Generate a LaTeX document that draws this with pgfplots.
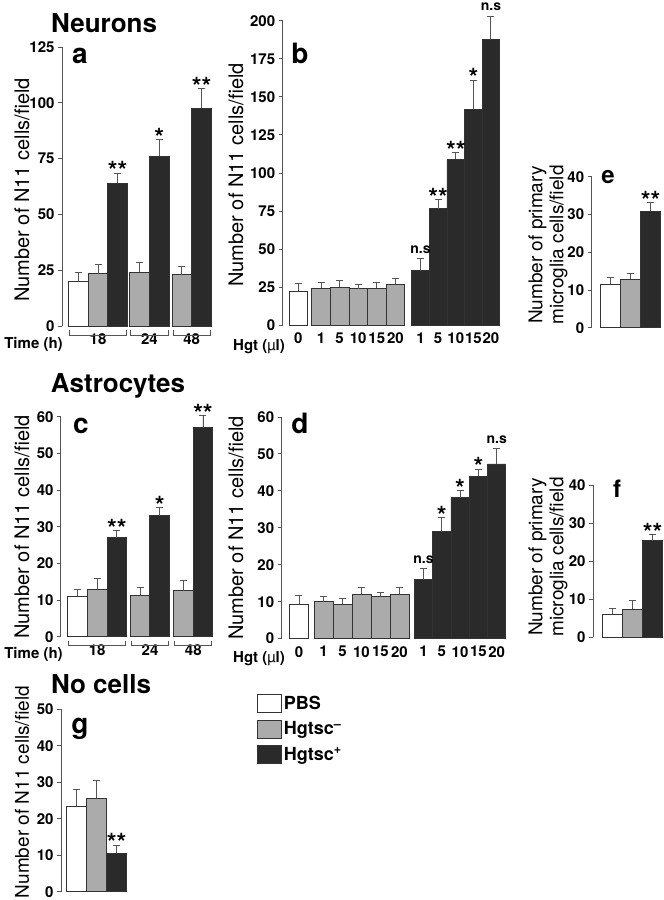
\documentclass[border=0pt]{standalone}
\usepackage{fontspec}
\setmainfont{TeX Gyre Heros}
\usepackage{pgfplots}
\pgfplotsset{compat=1.18}

\definecolor{barblack}{HTML}{2A2A2A}
\definecolor{bargrey}{HTML}{ABABAB}
\definecolor{edge}{HTML}{333333}
\definecolor{axisgrey}{HTML}{555555}

\pgfplotsset{
 panel/.style={
  scale only axis, clip=false,
  axis x line*=bottom, axis y line*=left,
  x axis line style={draw=none},
  y axis line style={-, draw=axisgrey, line width=1pt},
  xtick style={draw=none},
  ytick style={draw=axisgrey, line width=1pt},
  tick align=outside, major tick length=4pt,
  ymin=0,
  /pgf/number format/assume math mode=true,
  ticklabel style={font=\bfseries\fontsize{15}{15}\selectfont, text=black},
  ybar, bar shift=0pt, bar width=1,
  error bars/y dir=plus, error bars/y explicit,
  error bars/error bar style={draw=axisgrey, line width=0.9pt},
  error bars/error mark options={rotate=90, draw=axisgrey, line width=0.9pt, mark size=3.5pt},
 },
 pbs/.style={fill=white, draw=edge, line width=0.8pt, bar shift=0pt},
 hneg/.style={fill=bargrey, draw=edge, line width=0.8pt, bar shift=0pt},
 hpos/.style={fill=barblack, draw=edge, line width=0.8pt, bar shift=0pt},
 boxleg/.style={legend image code/.code={\draw[##1, line width=0.8pt] (0pt,-9pt) rectangle (24pt,9pt);}},
}
\tikzset{
 stars/.style={font=\bfseries\fontsize{25}{25}\selectfont, anchor=south, inner sep=0pt, yshift=-7pt},
 ns/.style={font=\bfseries\fontsize{14}{14}\selectfont, anchor=south, inner sep=0pt, yshift=5pt},
 ylab/.style={rotate=90, font=\fontsize{20}{20}\selectfont, align=center},
 plab/.style={font=\bfseries\fontsize{28}{28}\selectfont, anchor=base},
 ttl/.style={font=\bfseries\fontsize{26}{26}\selectfont, anchor=base},
 xlab/.style={font=\bfseries\fontsize{15}{15}\selectfont},
}
\newcommand\groupbracket[2]{\draw[axisgrey, line width=0.8pt] ([yshift=-4pt]axis cs:#1,0) -- ([yshift=-9pt]axis cs:#1,0) -- ([yshift=-9pt]axis cs:#2,0) -- ([yshift=-4pt]axis cs:#2,0);}

\begin{document}
\begin{tikzpicture}[x=1pt,y=1pt]
\useasboundingbox (0,0) rectangle (664,-900);

% ---------------- panel a
\begin{axis}[panel, at={(62pt,-326pt)}, anchor=south west, width=150pt, height=279pt,
  xmin=-0.83, xmax=6.79, ymax=125, ytick={0,25,...,125},
  xtick={1,3.61,5.76}, xticklabels={18,24,48}]
\addplot[pbs] coordinates {(0,20) +- (0,4)};
\addplot[hneg] coordinates {(1,23.5) +- (0,4) (3.11,24) +- (0,4.5) (5.26,23) +- (0,3.5)};
\addplot[hpos] coordinates {(2,64) +- (0,4.5) (4.11,76) +- (0,7.5) (6.26,97.5) +- (0,9)};
\node[stars] at (axis cs:2,68.5) {**};
\node[stars] at (axis cs:4.11,83.5) {*};
\node[stars] at (axis cs:6.26,106.5) {**};
\groupbracket{-0.45}{2.45}
\groupbracket{2.66}{4.56}
\groupbracket{4.81}{6.71}
\end{axis}

% ---------------- panel b
\begin{axis}[panel, at={(282.7pt,-325.4pt)}, anchor=south west, width=216.6pt, height=304.7pt,
  xmin=-0.857, xmax=11.04, ymax=200, ytick={0,25,...,200},
  xtick={0,1.25,2.27,3.29,4.31,5.33,6.71,7.68,8.65,9.62,10.58},
  xticklabels={0,1,5,10,15,20,1,5,10,15,20}]
\addplot[pbs] coordinates {(0,22.5) +- (0,5)};
\addplot[hneg, bar width=1.02] coordinates {(1.25,24.5) +- (0,4) (2.27,25) +- (0,4.5) (3.29,24) +- (0,3) (4.31,24.5) +- (0,4) (5.33,27) +- (0,3.5)};
\addplot[hpos, bar width=0.97] coordinates {(6.71,36) +- (0,8) (7.68,76.5) +- (0,6) (8.65,109) +- (0,4.5) (9.62,142) +- (0,19) (10.58,187.5) +- (0,15.5)};
\node[ns] at (axis cs:6.71,44) {n.s};
\node[stars] at (axis cs:7.68,82.5) {**};
\node[stars] at (axis cs:8.65,113.5) {**};
\node[stars] at (axis cs:9.62,161) {*};
\node[ns] at (axis cs:10.58,203) {n.s};
\end{axis}

% ---------------- panel e
\begin{axis}[panel, at={(591.7pt,-327.8pt)}, anchor=south west, width=70.3pt, height=151.1pt,
  xmin=-0.915, xmax=2.6, ymax=40, ytick={0,10,...,40}, xtick=\empty]
\addplot[pbs] coordinates {(0,11.5) +- (0,1.7)};
\addplot[hneg] coordinates {(1,12.8) +- (0,1.7)};
\addplot[hpos] coordinates {(2.03,30.8) +- (0,2.4)};
\node[stars] at (axis cs:2.03,33.2) {**};
\end{axis}

% ---------------- panel c
\begin{axis}[panel, at={(61pt,-636.7pt)}, anchor=south west, width=153pt, height=220pt,
  xmin=-0.84, xmax=6.93, ymax=60, ytick={0,10,...,60},
  xtick={1,3.68,5.88}, xticklabels={18,24,48}]
\addplot[pbs] coordinates {(0,11) +- (0,2)};
\addplot[hneg] coordinates {(1,13) +- (0,3) (3.19,11.3) +- (0,2) (5.39,12.5) +- (0,2.8)};
\addplot[hpos] coordinates {(2,27) +- (0,2) (4.17,33) +- (0,2.3) (6.37,57) +- (0,3.3)};
\node[stars] at (axis cs:2,29) {**};
\node[stars] at (axis cs:4.17,35.3) {*};
\node[stars] at (axis cs:6.37,60.3) {**};
\groupbracket{-0.45}{2.45}
\groupbracket{2.74}{4.62}
\groupbracket{4.94}{6.82}
\end{axis}

% ---------------- panel d
\begin{axis}[panel, at={(281.7pt,-638.6pt)}, anchor=south west, width=224.3pt, height=221.6pt,
  xmin=-0.93, xmax=11.13, ymax=60, ytick={0,10,...,60},
  xtick={0,1.32,2.34,3.36,4.38,5.40,6.69,7.68,8.66,9.65,10.63},
  xticklabels={0,1,5,10,15,20,1,5,10,15,20}]
\addplot[pbs] coordinates {(0,9.3) +- (0,2.3)};
\addplot[hneg, bar width=1.02] coordinates {(1.32,10) +- (0,1.3) (2.34,9.3) +- (0,1.5) (3.36,12) +- (0,1.8) (4.38,11.3) +- (0,1.1) (5.40,12) +- (0,1.8)};
\addplot[hpos, bar width=0.985] coordinates {(6.69,16) +- (0,3) (7.68,29) +- (0,3.8) (8.66,38.2) +- (0,1.9) (9.65,44) +- (0,1.9) (10.63,47.3) +- (0,4.1)};
\node[ns] at (axis cs:6.69,19) {n.s};
\node[stars] at (axis cs:7.68,32.8) {*};
\node[stars] at (axis cs:8.66,40.1) {*};
\node[stars] at (axis cs:9.65,45.9) {*};
\node[ns] at (axis cs:10.63,51.4) {n.s};
\end{axis}

% ---------------- panel f
\begin{axis}[panel, at={(593pt,-637.3pt)}, anchor=south west, width=71pt, height=152.3pt,
  xmin=-0.985, xmax=2.565, ymax=40, ytick={0,10,...,40}, xtick=\empty]
\addplot[pbs] coordinates {(0,6) +- (0,1.7)};
\addplot[hneg] coordinates {(1,7.4) +- (0,2.2)};
\addplot[hpos] coordinates {(2,25.4) +- (0,1.6)};
\node[stars] at (axis cs:2,27) {**};
\end{axis}

% ---------------- panel g
\begin{axis}[panel, at={(61pt,-891.7pt)}, anchor=south west, width=67pt, height=182.4pt,
  xmin=-0.785, xmax=2.565, ymax=50, ytick={0,10,...,50}, xtick=\empty,
  legend cell align=left,
  legend style={at={(axis description cs:2.925,1.084)}, anchor=north west, draw=none, fill=none,
    inner sep=0pt, row sep=6.5pt, font=\bfseries\fontsize{18}{18}\selectfont,
    /tikz/every even column/.append style={column sep=3pt}}]
\addplot[pbs, boxleg] coordinates {(0,23.5) +- (0,4.5)};
\addlegendentry{PBS}
\addplot[hneg, boxleg] coordinates {(1,25.7) +- (0,4.7)};
\addlegendentry{Hgtsc\textsuperscript{–}}
\addplot[hpos, boxleg] coordinates {(2,10.6) +- (0,2.2)};
\addlegendentry{Hgtsc\textsuperscript{+}}
\node[stars] at (axis cs:2,12.8) {**};
\end{axis}

% ---------------- texts
\node[ttl] at (104,-32) {Neurons};
\node[ttl] at (118,-392) {Astrocytes};
\node[ttl] at (101,-693) {No cells};

\node[plab] at (80,-63) {a};
\node[plab] at (300,-63) {b};
\node[plab] at (81,-433) {c};
\node[plab] at (300,-433) {d};
\node[plab, font=\bfseries\fontsize{24}{24}\selectfont] at (608,-183) {e};
\node[plab, font=\bfseries\fontsize{24}{24}\selectfont] at (617,-497) {f};
\node[plab] at (80,-733) {g};

\node[ylab] at (22,-190) {Number of N11 cells/field};
\node[ylab] at (236,-175) {Number of N11 cells/field};
\node[ylab] at (22,-527) {Number of N11 cells/field};
\node[ylab] at (236,-528) {Number of N11 cells/field};
\node[ylab, font=\fontsize{19}{21}\selectfont] at (548,-245) {Number of primary\\microglia cells/field};
\node[ylab, font=\fontsize{19}{21}\selectfont] at (548,-557) {Number of primary\\microglia cells/field};
\node[ylab, font=\fontsize{19}{19}\selectfont] at (22,-792) {Number of N11 cells/field};

\node[xlab] at (33.5,-344) {Time (h)};
\node[xlab] at (33.5,-654) {Time (h)};
\node[xlab] at (259,-346.7) {Hgt (\textmd{µ}l)};
\node[xlab] at (259,-658.3) {Hgt (\textmd{µ}l)};
\end{tikzpicture}
\end{document}
